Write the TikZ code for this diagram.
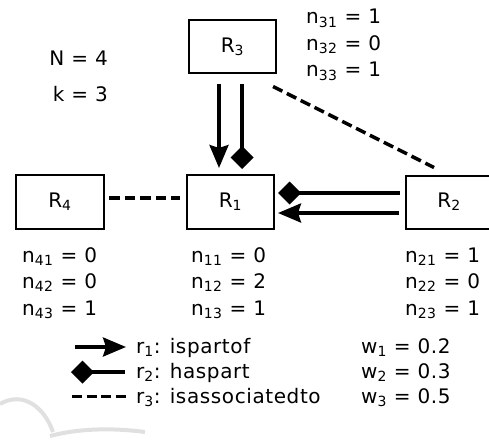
\documentclass[tikz,border=0pt]{standalone}
\usepackage{fontspec}
\setmainfont[LetterSpace=3]{DejaVu Sans}
\usetikzlibrary{arrows.meta}
\newcommand\ix[1]{\textsubscript{#1}}
\begin{document}
\begin{tikzpicture}[x=1pt,y=-1pt,
  every node/.style={font=\fontsize{20}{24}\selectfont, inner sep=0pt},
  rbox/.style={draw, line width=2pt, fill=white, minimum height=53pt},
  lbl/.style={anchor=base west},
  relone/.style={line width=3.5pt, -{Stealth[length=23pt,width=19pt,inset=3pt]}},
  reltwo/.style={line width=3.5pt, -{Diamond[length=23pt,width=23pt]}},
  relthree/.style={line width=3.5pt, dash pattern=on 10.5pt off 5pt},
  wmark/.style={line width=4pt, color=black!12}]
\path[use as bounding box] (0,0) rectangle (489,441);
\clip (0,0) rectangle (489,441);
% watermark arcs
\draw[wmark] (0,404) .. controls (22,391) and (44,406) .. (53,432);
\draw[wmark] (50,436) .. controls (80,428) and (115,428) .. (145,432);
% boxes
\node[rbox, minimum width=87pt] (R3) at (232.5,47) {R\ix{3}};
\node[rbox, minimum width=87pt, minimum height=54pt] (R1) at (230.5,202) {R\ix{1}};
\node[rbox, minimum width=88pt, minimum height=54pt] (R4) at (60,202) {R\ix{4}};
\node[rbox, minimum width=86pt] (R2) at (449,202) {R\ix{2}};
% connectors
\draw[relone, shorten <=10pt, shorten >=6pt]
  ([xshift=-13.5pt]R3.south) -- ([xshift=-13.5pt]R3.south |- R1.north);
\draw[reltwo, shorten <=10pt, shorten >=5pt]
  ([xshift=9.5pt]R3.south) -- ([xshift=9.5pt]R3.south |- R1.north);
\draw[reltwo, shorten <=5pt, shorten >=3pt]
  ([yshift=9pt]R2.west) -- ([yshift=9pt]R2.west -| R1.east);
\draw[relone, shorten <=6pt, shorten >=3pt]
  ([yshift=-11pt]R2.west) -- ([yshift=-11pt]R2.west -| R1.east);
\draw[relthree, shorten <=4pt, shorten >=6pt]
  ([yshift=4pt]R4.east) -- ([yshift=4pt]R4.east -| R1.west);
\draw[relthree]
  ([xshift=-4pt,yshift=-12pt]R3.south east) -- ([xshift=29pt,yshift=7pt]R2.north west);
% parameters
\node[anchor=base east] (N) at (108,66) {N = 4};
\node[anchor=base east] (k) at (108,102) {k = 3};
\node[lbl] (n31) at (306,24) {n\ix{31} = 1};
\node[lbl] (n32) at (306,50.5) {n\ix{32} = 0};
\node[lbl] (n33) at (306,77) {n\ix{33} = 1};
\node[lbl] (n41) at (22,262) {n\ix{41} = 0};
\node[lbl] (n42) at (22,288.5) {n\ix{42} = 0};
\node[lbl] (n43) at (22,315) {n\ix{43} = 1};
\node[lbl] (n11) at (191,262) {n\ix{11} = 0};
\node[lbl] (n12) at (191,288.5) {n\ix{12} = 2};
\node[lbl] (n13) at (191,315) {n\ix{13} = 1};
\node[lbl] (n21) at (405,262) {n\ix{21} = 1};
\node[lbl] (n22) at (405,288.5) {n\ix{22} = 0};
\node[lbl] (n23) at (405,315) {n\ix{23} = 1};
% legend
\coordinate (l1s) at (75,347);
\coordinate (l1e) at (126,347);
\coordinate (l2s) at (125,372);
\coordinate (l2e) at (71,372);
\coordinate (l3s) at (72,396.5);
\coordinate (l3e) at (125.5,396.5);
\draw[relone] (l1s) -- (l1e);
\draw[reltwo] (l2s) -- (l2e);
\draw[relthree, dash pattern=on 10pt off 4.5pt] (l3s) -- (l3e);
\node[lbl] (t1) at (136,353) {r\ix{1}: ispartof};
\node[lbl] (t2) at (136,378) {r\ix{2}: haspart};
\node[lbl] (t3) at (136,403) {r\ix{3}: isassociatedto};
\node[lbl] (w1) at (361,353) {w\ix{1} = 0.2};
\node[lbl] (w2) at (361,378) {w\ix{2} = 0.3};
\node[lbl] (w3) at (361,403) {w\ix{3} = 0.5};
\end{tikzpicture}
\end{document}
